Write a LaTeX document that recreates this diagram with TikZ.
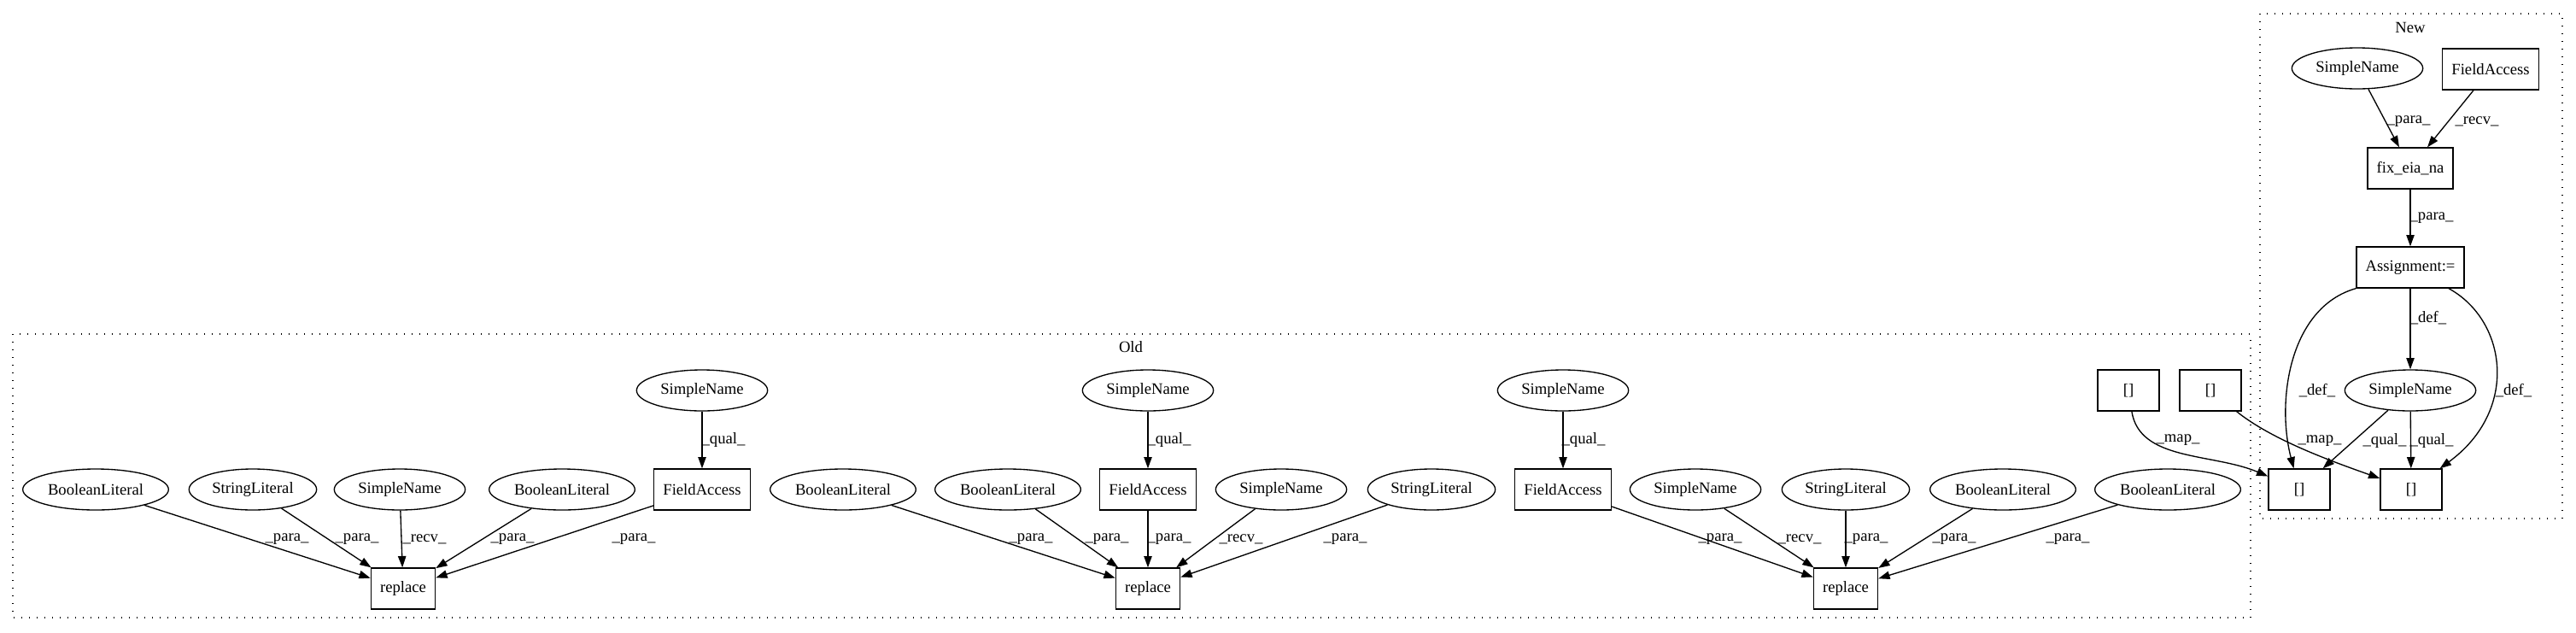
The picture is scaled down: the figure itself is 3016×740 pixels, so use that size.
\documentclass[tikz,border=0pt]{standalone}
\usepackage{fontspec}
\setmainfont{Liberation Serif}
\usetikzlibrary{arrows.meta,shapes.geometric}
\begin{document}
\begin{tikzpicture}[x=0.75pt,y=-0.75pt,
	every node/.style={font=\fontsize{14}{16}\selectfont},
	ell/.style={ellipse,draw=black,line width=1pt,inner sep=0pt,minimum height=36pt},
	boollit/.style={ell,minimum width=128pt},
	strlit/.style={ell,minimum width=112pt},
	sname/.style={ell,minimum width=115pt},
	astbox/.style={rectangle,draw=black,line width=1pt,inner xsep=8pt,minimum height=36pt,minimum width=54pt},
	conn/.style={line width=1pt,-{Triangle[length=10pt,width=7pt]}},
	lbl/.style={inner sep=0pt},
	clusterbox/.style={draw=black,line width=1pt,dash pattern=on 1pt off 5.75pt}]
	\useasboundingbox (0,0) rectangle (3016,740);
	% clusters
	\draw[clusterbox] (15,391) rectangle (2635,723);
	\draw[clusterbox] (2646,16) rectangle (3000,607);
	\node (oldtitle) at (1324,406) {Old};
	\node (newtitle) at (2822,32) {New};
	% old: first replace
	\node[boollit] (bl1) at (112,573) {BooleanLiteral};
	\node[strlit] (sl1) at (296,573) {StringLiteral};
	\node[sname] (sn1) at (468,573) {SimpleName};
	\node[boollit] (bl2) at (658,573) {BooleanLiteral};
	\node[astbox] (fa1) at (822,573) {FieldAccess};
	\node[sname] (sq1) at (822,457) {SimpleName};
	\node[astbox] (rep1) at (472,689) {replace};
	% old: second replace
	\node[boollit] (bl3) at (987,573) {BooleanLiteral};
	\node[boollit] (bl4) at (1180,573) {BooleanLiteral};
	\node[astbox] (fa2) at (1344,573) {FieldAccess};
	\node[sname] (sq2) at (1344,457) {SimpleName};
	\node[sname] (sn2) at (1500,573) {SimpleName};
	\node[strlit] (sl2) at (1676,573) {StringLiteral};
	\node[astbox] (rep2) at (1344,689) {replace};
	% old: third replace
	\node[astbox] (fa3) at (1830,573) {FieldAccess};
	\node[sname] (sq3) at (1830,457) {SimpleName};
	\node[sname] (sn3) at (1985,573) {SimpleName};
	\node[strlit] (sl3) at (2161,573) {StringLiteral};
	\node[boollit] (bl5) at (2345,573) {BooleanLiteral};
	\node[boollit] (bl6) at (2538,573) {BooleanLiteral};
	\node[astbox] (rep3) at (2161,689) {replace};
	\node[astbox] (ob1) at (2492,457) {[]};
	\node[astbox] (ob2) at (2588,457) {[]};
	% new
	\node[sname] (nsn) at (2760,80) {SimpleName};
	\node[astbox] (nfa) at (2916,81) {FieldAccess};
	\node[astbox] (fix) at (2822,197) {fix\_eia\_na};
	\node[astbox] (asg) at (2822,313) {Assignment:=};
	\node[sname] (nsq) at (2822,457) {SimpleName};
	\node[astbox] (nb1) at (2692,573) {[]};
	\node[astbox] (nb2) at (2823,573) {[]};
	% edges
	\foreach \s in {bl1,sl1,sn1,bl2,fa1}
	\draw[conn] (\s) -- (rep1);
	\foreach \s in {bl3,bl4,fa2,sn2,sl2}
	\draw[conn] (\s) -- (rep2);
	\foreach \s in {fa3,sn3,sl3,bl5,bl6}
	\draw[conn] (\s) -- (rep3);
	\draw[conn] (sq1) -- (fa1);
	\draw[conn] (sq2) -- (fa2);
	\draw[conn] (sq3) -- (fa3);
	\draw[conn] (nsn) -- (fix);
	\draw[conn] (nfa) -- (fix);
	\draw[conn] (fix) -- (asg);
	\draw[conn] (asg) -- (nsq);
	\draw[conn] (asg.south west) .. controls (2680,360) and (2665,470) .. (nb1);
	\draw[conn] (asg) .. controls (2935,375) and (2950,480) .. (nb2);
	\draw[conn] (nsq) -- (nb1);
	\draw[conn] (nsq) -- (nb2);
	\draw[conn] (ob1) .. controls (2505,540) and (2590,530) .. (nb1);
	\draw[conn] (ob2) .. controls (2660,515) and (2730,540) .. (nb2);
	% edge labels
	\foreach \x/\t in {336/para,418/para,497/recv,600/para,742/para,1207/para,1296/para,1369/para,1453/recv,1575/para,2014/para,2107/recv,2185/para,2288/para,2421/para}
	\node[lbl] (lo\x) at (\x,631) {\_\t\_};
	\foreach \x/\t in {847/qual,1369/qual,1854/qual,2550/map}
	\node[lbl] (lq\x) at (\x,515) {\_\t\_};
	\node[lbl] (ln1) at (2820,142) {\_para\_};
	\node[lbl] (ln2) at (2900,142) {\_recv\_};
	\node[lbl] (ln3) at (2847,255) {\_para\_};
	\node[lbl] (ln4) at (2843,372) {\_def\_};
	\node[lbl] (ln5) at (2713,457) {\_def\_};
	\node[lbl] (ln6) at (2943,457) {\_def\_};
	\node[lbl] (ln7) at (2716,516) {\_map\_};
	\node[lbl] (ln8) at (2792,516) {\_qual\_};
	\node[lbl] (ln9) at (2847,516) {\_qual\_};
\end{tikzpicture}
\end{document}
